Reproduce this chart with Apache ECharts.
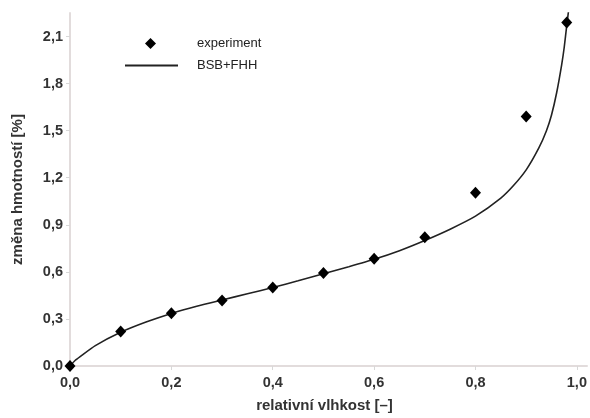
<!DOCTYPE html>
<html>
<head>
<meta charset="utf-8">
<script src="https://cdn.jsdelivr.net/npm/echarts@6/dist/echarts.min.js"></script>
<style>
  html, body { margin: 0; padding: 0; background: #fff; }
  #chart { width: 590px; height: 418px; }
</style>
</head>
<body>
<div id="chart"></div>
<script>
// Measured sorption data: relative humidity vs. mass change
const rhExperiment = [0.0, 0.1, 0.2, 0.3, 0.4, 0.5, 0.6, 0.7, 0.8, 0.9, 0.98];
const massExperiment = [0.0, 0.22, 0.337, 0.417, 0.50, 0.593, 0.683, 0.82, 1.105, 1.59, 2.19];

// BSB+FHH model curve
const rhModel = [0.0, 0.01, 0.02, 0.05, 0.1, 0.15, 0.2, 0.25, 0.3, 0.35, 0.4, 0.45, 0.5, 0.55, 0.6, 0.65, 0.7, 0.75, 0.8, 0.85, 0.875, 0.9, 0.925, 0.94, 0.95, 0.96, 0.97, 0.975, 0.98, 0.985];
const massModel = [0.0, 0.035, 0.06, 0.13, 0.215, 0.28, 0.335, 0.381, 0.421, 0.46, 0.50, 0.543, 0.588, 0.633, 0.68, 0.735, 0.80, 0.872, 0.955, 1.07, 1.15, 1.25, 1.39, 1.5, 1.6, 1.74, 1.92, 2.03, 2.17, 2.3];

const xTicks = [0.0, 0.2, 0.4, 0.6, 0.8, 1.0];
const yTicks = [0.0, 0.3, 0.6, 0.9, 1.2, 1.5, 1.8, 2.1];

const seriesNames = ['experiment', 'BSB+FHH'];

const comma = (v, digits) => v.toFixed(digits).replace('.', ',');
const pairs = (xs, ys) => xs.map((x, i) => [x, ys[i]]);

const font = '"Liberation Sans", Arial, sans-serif';
const labelStyle = { fontFamily: font, fontWeight: 'bold', fontSize: 14.5, color: '#333' };
const axisColor = '#e2dcdc';

const chart = echarts.init(document.getElementById('chart'), null, { renderer: 'canvas' });
chart.setOption({
  animation: false,
  backgroundColor: '#fff',
  grid: { left: 70, right: 3, top: 13, bottom: 48, containLabel: false },
  legend: [
    {
      data: [seriesNames[0]],
      left: 140, top: 32,
      itemWidth: 11, itemHeight: 11,
      icon: 'diamond',
      textStyle: { fontFamily: font, fontSize: 13, color: '#222', padding: [0, 0, 0, 36] },
      selectedMode: false
    },
    {
      data: [seriesNames[1]],
      left: 120, top: 54,
      itemWidth: 53, itemHeight: 1.8,
      icon: 'rect',
      textStyle: { fontFamily: font, fontSize: 13, color: '#222', padding: [0, 0, 0, 14] },
      selectedMode: false
    }
  ],
  xAxis: {
    type: 'value',
    min: 0, max: 1.02,
    name: 'relativní vlhkost [–]',
    nameLocation: 'middle',
    nameGap: 32,
    nameTextStyle: { ...labelStyle, fontSize: 15, padding: [0, 8, 0, 0] },
    axisLine: { show: true, lineStyle: { color: axisColor, width: 2 } },
    axisTick: { show: true, length: 4, lineStyle: { color: '#d8d8d8' }, customValues: xTicks },
    axisLabel: { ...labelStyle, margin: 9, customValues: xTicks, formatter: v => comma(v, 1) },
    splitLine: { show: false }
  },
  yAxis: {
    type: 'value',
    min: 0, max: 2.25,
    name: 'změna hmotností [%]',
    nameLocation: 'middle',
    nameGap: 45,
    nameRotate: 90,
    nameTextStyle: { ...labelStyle, fontSize: 15 },
    axisLine: { show: true, lineStyle: { color: axisColor, width: 2 } },
    axisTick: { show: true, length: 4, lineStyle: { color: '#d8d8d8' }, customValues: yTicks },
    axisLabel: { ...labelStyle, margin: 7, customValues: yTicks, formatter: v => comma(v, 1) },
    splitLine: { show: false }
  },
  series: [
    {
      name: seriesNames[1],
      type: 'line',
      data: pairs(rhModel, massModel),
      smooth: 0.2,
      symbol: 'none',
      clip: true,
      lineStyle: { color: '#222', width: 1.6 },
      itemStyle: { color: '#222' },
      z: 2
    },
    {
      name: seriesNames[0],
      type: 'scatter',
      data: pairs(rhExperiment, massExperiment),
      symbol: 'diamond',
      symbolSize: [11, 12],
      itemStyle: { color: '#000', opacity: 1 },
      z: 3
    }
  ]
});
</script>
</body>
</html>
